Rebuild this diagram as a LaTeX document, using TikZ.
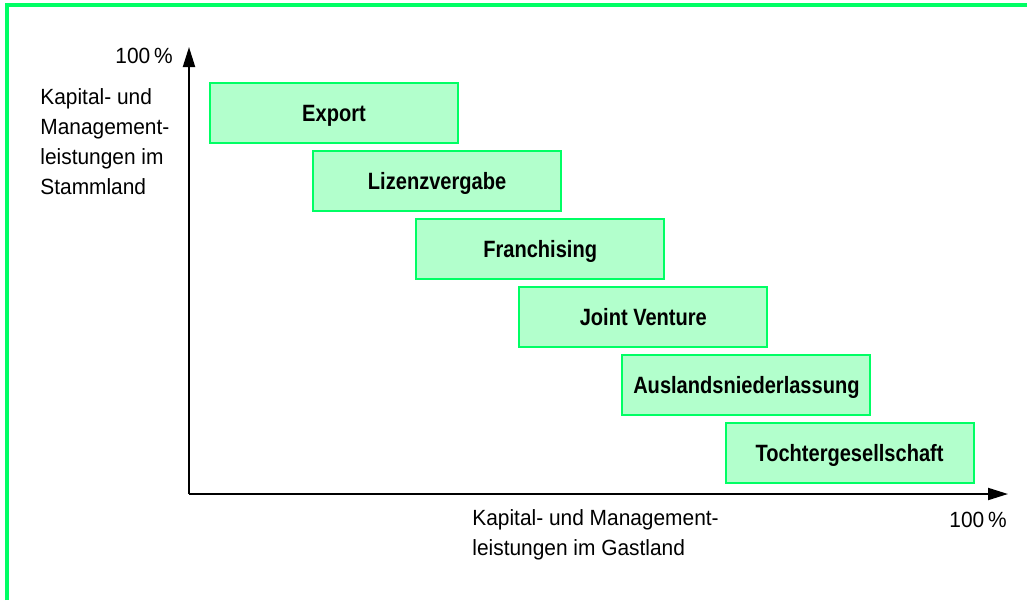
\documentclass[tikz,border=0pt]{standalone}
\usepackage{fontspec}
\setmainfont{Liberation Sans}[FakeStretch=0.95]
\newfontfamily\condsans{Liberation Sans}[FakeStretch=0.85]
\usetikzlibrary{positioning,arrows.meta}
\definecolor{frameGreen}{RGB}{0,255,100}
\definecolor{boxFill}{RGB}{178,255,204}

\tikzset{
  stage/.style={draw=frameGreen, fill=boxFill, line width=1pt,
    minimum width=124pt, minimum height=30pt, inner sep=0pt,
    text height=8.5pt, text depth=0pt,
    font=\condsans\bfseries\fontsize{11.8}{14}\selectfont},
  axislabel/.style={inner sep=0pt, align=left,
    font=\fontsize{11}{15}\selectfont}
}

\begin{document}
\begin{tikzpicture}[x=0.5pt, y=-0.5pt]
  \useasboundingbox (0,0) rectangle (1027,600);

  % Frame
  \draw[frameGreen, line width=1.6pt] (7,600) -- (7,5) -- (1027,5);

  % Axes
  \coordinate (origin) at (189,494);
  \coordinate (ytip) at (189,47);
  \coordinate (xtip) at (1008,494);
  \draw[line width=1pt, -{Triangle[length=10pt,width=6pt]}] (origin) -- (ytip);
  \draw[line width=1pt, -{Triangle[length=10pt,width=6pt]}] (origin) -- (xtip);

  % Axis labels
  \node[axislabel, anchor=east] (ymax) at (173,56) {100\,\%};
  \node[axislabel, anchor=west] (ylabel) at (40,142)
    {Kapital- und\\Management-\\leistungen im\\Stammland};
  \node[axislabel, anchor=east] (xmax) at (1007,520) {100\,\%};
  \node[axislabel, anchor=west] (xlabel) at (472,535)
    {Kapital- und Management-\\leistungen im Gastland};

  % Market entry forms
  \node[stage] (export)  at (334,113)   {Export};
  \node[stage] (lizenz)  at (437.1,181) {Lizenzvergabe};
  \node[stage] (franch)  at (540.2,249) {Franchising};
  \node[stage] (joint)   at (643.3,317) {Joint Venture};
  \node[stage] (ausland) at (746.4,385) {Auslandsniederlassung};
  \node[stage] (tochter) at (849.5,453) {Tochtergesellschaft};
\end{tikzpicture}
\end{document}
